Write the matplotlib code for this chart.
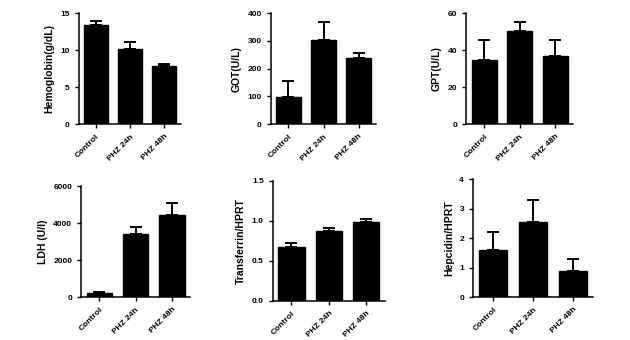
import numpy as np
import matplotlib.pyplot as plt

plt.rcParams['font.family'] = ['Liberation Sans', 'DejaVu Sans']
plt.rcParams['font.weight'] = 'bold'

groups = ['Control', 'PHZ 24h', 'PHZ 48h']

hb = [13.4, 10.2, 7.9]
hb_err = [0.6, 0.9, 0.3]
got = [97, 305, 238]
got_err = [58, 65, 17]
gpt = [34.5, 50.5, 37]
gpt_err = [11, 4.5, 8.5]
ldh = [200, 3400, 4450]
ldh_err = [60, 420, 650]
tf = [0.67, 0.87, 0.99]
tf_err = [0.05, 0.04, 0.03]
hep = [1.6, 2.55, 0.87]
hep_err = [0.6, 0.73, 0.41]

panels = [
    (hb, hb_err, 'Hemoglobin(g/dL)', 15, [0, 5, 10, 15], [0.125, 0.635, 0.163, 0.326]),
    (got, got_err, 'GOT(U/L)', 400, [0, 100, 200, 300, 400], [0.430, 0.635, 0.167, 0.326]),
    (gpt, gpt_err, 'GPT(U/L)', 60, [0, 20, 40, 60], [0.740, 0.635, 0.170, 0.326]),
    (ldh, ldh_err, 'LDH (U/l)', 6000, [0, 2000, 4000, 6000], [0.129, 0.126, 0.173, 0.326]),
    (tf, tf_err, 'Transferrin/HPRT', 1.5, [0.0, 0.5, 1.0, 1.5], [0.433, 0.115, 0.178, 0.353]),
    (hep, hep_err, 'Hepcidin/HPRT', 4, [0, 1, 2, 3, 4], [0.751, 0.126, 0.190, 0.347]),
]

fig = plt.figure(figsize=(6.3, 3.4), dpi=100)
x = np.arange(len(groups))

for vals, errs, label, top, ticks, rect in panels:
    ax = fig.add_axes(rect)
    ax.bar(x, vals, width=0.7, color='black', edgecolor='black')
    ax.errorbar(x, vals, yerr=[np.zeros(len(errs)), errs], fmt='none',
                ecolor='black', elinewidth=1.4, capsize=4, capthick=1.4)
    ax.set_xlim(-0.5, 2.5)
    ax.set_ylim(0, top)
    ax.set_yticks(ticks)
    if label == 'Transferrin/HPRT':
        ax.set_yticklabels(['%.1f' % t for t in ticks])
    ax.set_xticks(x)
    ax.set_xticklabels(groups, rotation=45, ha='right', rotation_mode='anchor')
    ax.set_ylabel(label, fontsize=7.5, fontweight='bold')
    ax.tick_params(labelsize=6, width=1, length=3)
    for s in ['top', 'right']:
        ax.spines[s].set_visible(False)
    for s in ['left', 'bottom']:
        ax.spines[s].set_linewidth(1.1)

fig.savefig('out.png', dpi=100)
